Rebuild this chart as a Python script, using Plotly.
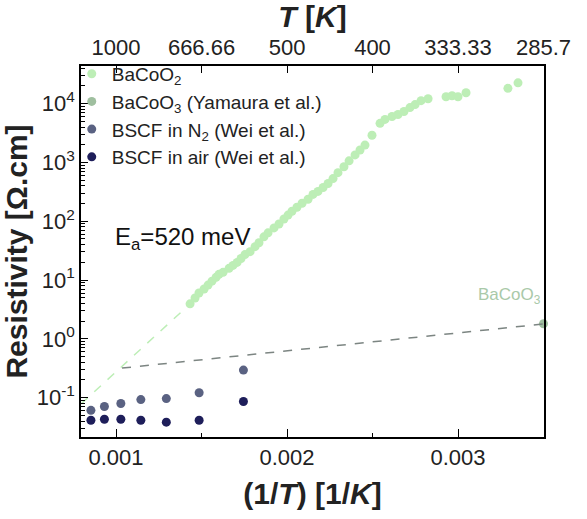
import plotly.graph_objects as go

# ---------------- data ----------------
# BaCoO2 (this work): inverse temperature [1/K] and resistivity [Ohm.cm]
bacoo2_invT = [0.001433, 0.001462, 0.001485, 0.001515, 0.001538, 0.001561, 0.001585,
               0.001602, 0.001626, 0.001661, 0.001684, 0.001708, 0.001731, 0.001754,
               0.001784, 0.001813, 0.001836, 0.001865, 0.001889, 0.001924, 0.001953,
               0.001982, 0.002006, 0.002029, 0.002058, 0.002088, 0.002123, 0.002152,
               0.002181, 0.002211, 0.002240, 0.002269, 0.002298, 0.002333, 0.002363,
               0.002398, 0.002427, 0.002456, 0.002497, 0.002544, 0.002573, 0.002614,
               0.002649, 0.002684, 0.002719, 0.002749, 0.002784, 0.002825, 0.002930,
               0.002965, 0.003000, 0.003047, 0.003292, 0.003351]
bacoo2_rho = [3.93, 4.95, 6.01, 7.02, 8.19, 9.55, 11.1, 12.5, 13.5, 15.8, 17.7, 19.9,
              23.2, 27.1, 30.4, 36.9, 43.1, 54.3, 63.4, 76.9, 89.8, 109, 127, 148, 173,
              202, 236, 286, 321, 375, 438, 531, 669, 844, 1064, 1343, 1627, 1974, 2904,
              4617, 5395, 6053, 6537, 7342, 8570, 9620, 11220, 12130, 13100, 13610,
              13100, 15280, 18200, 22600]

# Arrhenius fit for BaCoO2 (Ea = 520 meV)
fit_bacoo2_invT = [0.000795, 0.001433]
fit_bacoo2_rho = [0.078, 3.93]

# BaCoO3 (Yamaura et al.)
bacoo3_invT = [0.0035]
bacoo3_rho = [1.8]
fit_bacoo3_invT = [0.001035, 0.0035]
fit_bacoo3_rho = [0.318, 1.79]

# BSCF (Wei et al.)
bscf_invT = [0.000853, 0.000932, 0.001028, 0.001145, 0.001294, 0.001486, 0.001745]
bscf_n2_rho = [0.0607, 0.0707, 0.0794, 0.0926, 0.0962, 0.121, 0.294]
bscf_air_rho = [0.0412, 0.0428, 0.0428, 0.0412, 0.0382, 0.0412, 0.0857]

# axes
x_range = [0.000795, 0.003503]
bottom_tickvals = [0.001, 0.002, 0.003]
bottom_ticktext = ["0.001", "0.002", "0.003"]
bottom_minor_tickvals = [0.0015, 0.0025]
top_tickvals = [0.001, 0.0015, 0.002, 0.0025, 0.003, 0.0035]
top_ticktext = ["1000", "666.66", "500", "400", "333.33", "285.7"]
y_log_range = [-1.67, 4.64]
y_tickvals = [0.1, 1, 10, 100, 1000, 10000]
y_ticktext = ["10<sup>-1</sup>", "10<sup>0</sup>", "10<sup>1</sup>", "10<sup>2</sup>",
              "10<sup>3</sup>", "10<sup>4</sup>"]
y_minor_tickvals = [m * 10.0 ** e for e in range(-2, 5) for m in range(2, 10)]

# colours
c_bacoo2 = "#bdeeb6"
c_bacoo3 = "#9fbf9f"
c_n2 = "#5a6282"
c_air = "#1e1e5a"
c_gray = "#7c8582"

FONT = "Arial, Liberation Sans, sans-serif"

fig = go.Figure()

fig.add_trace(go.Scatter(x=fit_bacoo2_invT, y=fit_bacoo2_rho, mode="lines",
                         line=dict(color=c_bacoo2, width=1.5, dash="dash"),
                         showlegend=False, hoverinfo="skip"))
fig.add_trace(go.Scatter(x=fit_bacoo3_invT, y=fit_bacoo3_rho, mode="lines",
                         line=dict(color=c_gray, width=1.5, dash="dash"),
                         showlegend=False, hoverinfo="skip", xaxis="x2"))

fig.add_trace(go.Scatter(x=bacoo2_invT, y=bacoo2_rho, mode="markers",
                         marker=dict(color=c_bacoo2, size=9),
                         name="BaCoO<sub>2</sub>"))
fig.add_trace(go.Scatter(x=bacoo3_invT, y=bacoo3_rho, mode="markers",
                         marker=dict(color=c_bacoo3, size=9), cliponaxis=False,
                         name="BaCoO<sub>3</sub> (Yamaura et al.)"))
fig.add_trace(go.Scatter(x=bscf_invT, y=bscf_n2_rho, mode="markers",
                         marker=dict(color=c_n2, size=9),
                         name="BSCF in N<sub>2</sub> (Wei et al.)"))
fig.add_trace(go.Scatter(x=bscf_invT, y=bscf_air_rho, mode="markers",
                         marker=dict(color=c_air, size=9),
                         name="BSCF in air (Wei et al.)"))

axis_common = dict(showline=True, linecolor="black", linewidth=1.5, showgrid=False,
                   zeroline=False, ticks="inside", tickcolor="black",
                   tickfont=dict(family=FONT, size=22, color="#222"))

fig.update_layout(
    width=587, height=519,
    margin=dict(l=81, r=43, t=60, b=82),
    paper_bgcolor="white", plot_bgcolor="white",
    font=dict(family=FONT, color="#222"),
    xaxis=dict(range=x_range, tickmode="array", tickvals=bottom_tickvals,
               ticktext=bottom_ticktext, ticklen=8, mirror=False,
               minor=dict(tickmode="array", tickvals=bottom_minor_tickvals,
                          ticks="inside", ticklen=4, tickcolor="black", showgrid=False),
               title=dict(text="<b>(1/<i>T</i>) [1/<i>K</i>]</b>",
                          font=dict(family=FONT, size=30, color="#222"), standoff=14),
               **axis_common),
    xaxis2=dict(range=x_range, overlaying="x", side="top", tickmode="array",
                tickvals=top_tickvals, ticktext=top_ticktext, ticklen=7,
                title=dict(text="<b><i>T</i> [<i>K</i>]</b>",
                           font=dict(family=FONT, size=30, color="#222"), standoff=2),
                **axis_common),
    yaxis=dict(type="log", range=y_log_range, tickmode="array", tickvals=y_tickvals,
               ticktext=y_ticktext, ticklen=7, mirror=True,
               minor=dict(tickmode="array", tickvals=y_minor_tickvals, ticks="inside",
                          ticklen=4, tickcolor="black", tickwidth=1, showgrid=False),
               title=dict(text="<b>Resistivity [Ω.cm]</b>",
                          font=dict(family=FONT, size=30, color="#222"), standoff=4),
               **axis_common),
    legend=dict(x=-0.02, y=1.03, xanchor="left", yanchor="top",
                bgcolor="rgba(0,0,0,0)", font=dict(family=FONT, size=19, color="#222"),
                itemwidth=30, tracegroupgap=0),
    annotations=[
        dict(x=0.00098, y=1.7, xref="x", yref="y", xanchor="left", yanchor="middle",
             text="E<sub>a</sub>=520 meV", showarrow=False,
             font=dict(family=FONT, size=24, color="#111")),
        dict(x=0.0035, y=0.72, xref="x", yref="y", xanchor="right", yanchor="middle",
             text="BaCoO<sub>3</sub>", showarrow=False,
             font=dict(family=FONT, size=17, color="#a9c9a9")),
    ],
)

fig.write_html("out.html")
